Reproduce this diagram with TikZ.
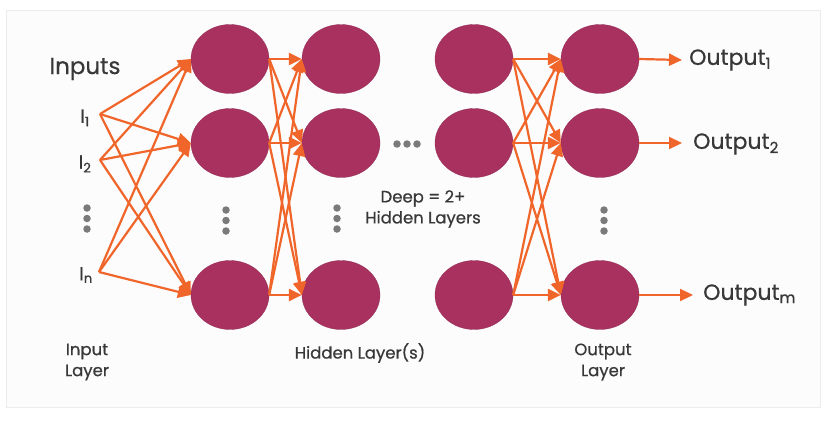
\documentclass[tikz,border=0pt]{standalone}
\usepackage{fontspec}
\setmainfont{Poppins}[FakeBold=0.6]
\usetikzlibrary{shapes.geometric,arrows.meta}
\definecolor{neuron}{HTML}{A8315F}
\definecolor{wire}{HTML}{F0652A}
\definecolor{txt}{HTML}{383838}
\definecolor{dotc}{HTML}{7A7A7A}
\definecolor{frame}{HTML}{ECECEC}
\tikzset{
  neuronnode/.style={ellipse, fill=neuron, draw=neuron!85!black, line width=0.3pt, minimum width=78pt, minimum height=69pt, inner sep=0pt},
  wirearrow/.style={draw=wire, line width=2.2pt, -{Triangle[length=13pt,width=12pt]}},
  lbl/.style={text=txt, inner sep=0pt, font=\fontsize{16.5}{21}\selectfont, align=center},
  biglbl/.style={text=txt, inner sep=0pt, font=\fontsize{23}{27}\selectfont},
  inlbl/.style={text=txt, inner sep=0pt, font=\fontsize{19}{22}\selectfont},
  outlbl/.style={text=txt, inner sep=0pt, anchor=west, font=\fontsize{22}{26}\selectfont},
  dotmark/.style={circle, fill=dotc, inner sep=0pt, minimum size=7.5pt}
}
\begin{document}
\begin{tikzpicture}[x=1pt,y=-1pt]
\useasboundingbox (0,0) rectangle (827,431);
\fill[white] (0,0) rectangle (827,431);
\draw[frame, fill=white!99!black] (6,10) rectangle (820,407);

% neurons
\foreach \c/\x in {a/230,b/341,c/474,d/600}{
  \node[neuronnode] (\c1) at (\x,59) {};
  \node[neuronnode] (\c2) at (\x,143) {};
  \node[neuronnode] (\c3) at (\x,295) {};
}

% inputs
\coordinate (i1) at (100,114);
\coordinate (i2) at (100,160);
\coordinate (in) at (99,272);
\node[biglbl] (inputs) at (85,69) {Inputs};
\node[inlbl] (l1) at (85,118) {I\textsubscript{1}};
\node[inlbl] (l2) at (85,164) {I\textsubscript{2}};
\node[inlbl] (ln) at (86,275) {I\textsubscript{n}};

\foreach \s in {i1,i2,in}{
  \foreach \t in {a1,a2,a3}{
    \draw[wirearrow] (\s) -- (\t.west);
  }
}
\foreach \s in {a1,a2,a3}{
  \foreach \t in {b1,b2,b3}{
    \draw[wirearrow] (\s.east) -- (\t.west);
  }
}
\foreach \s in {c1,c2,c3}{
  \foreach \t in {d1,d2,d3}{
    \draw[wirearrow] (\s.east) -- (\t.west);
  }
}

% outputs
\coordinate (o1) at (682,60);
\coordinate (o2) at (682,143);
\coordinate (om) at (693,295);
\draw[wirearrow] (d1.east) -- (o1);
\draw[wirearrow] (d2.east) -- (o2);
\draw[wirearrow] (d3.east) -- (om);
\node[outlbl] (out1) at (689,60) {Output\textsubscript{1}};
\node[outlbl] (out2) at (693,144) {Output\textsubscript{2}};
\node[outlbl] (outm) at (703,295) {Output\textsubscript{m}};

% dots
\foreach \x/\y [count=\k] in {87/208,226/210,337/208,604/210}{
  \node[dotmark] (vd\k a) at (\x,\y) {};
  \node[dotmark] (vd\k b) at (\x,\y+10.5) {};
  \node[dotmark] (vd\k c) at (\x,\y+21) {};
}
\node[dotmark] (hd1) at (397,144) {};
\node[dotmark] (hd2) at (407,144) {};
\node[dotmark] (hd3) at (417,144) {};

% labels
\node[lbl] (deep) at (423,209) {Deep = 2+\\Hidden Layers};
\node[lbl] (hidden) at (360,353) {Hidden Layer(s)};
\node[lbl] (inlayer) at (87,362) {Input\\Layer};
\node[lbl] (outlayer) at (603,362) {Output\\Layer};
\end{tikzpicture}
\end{document}
